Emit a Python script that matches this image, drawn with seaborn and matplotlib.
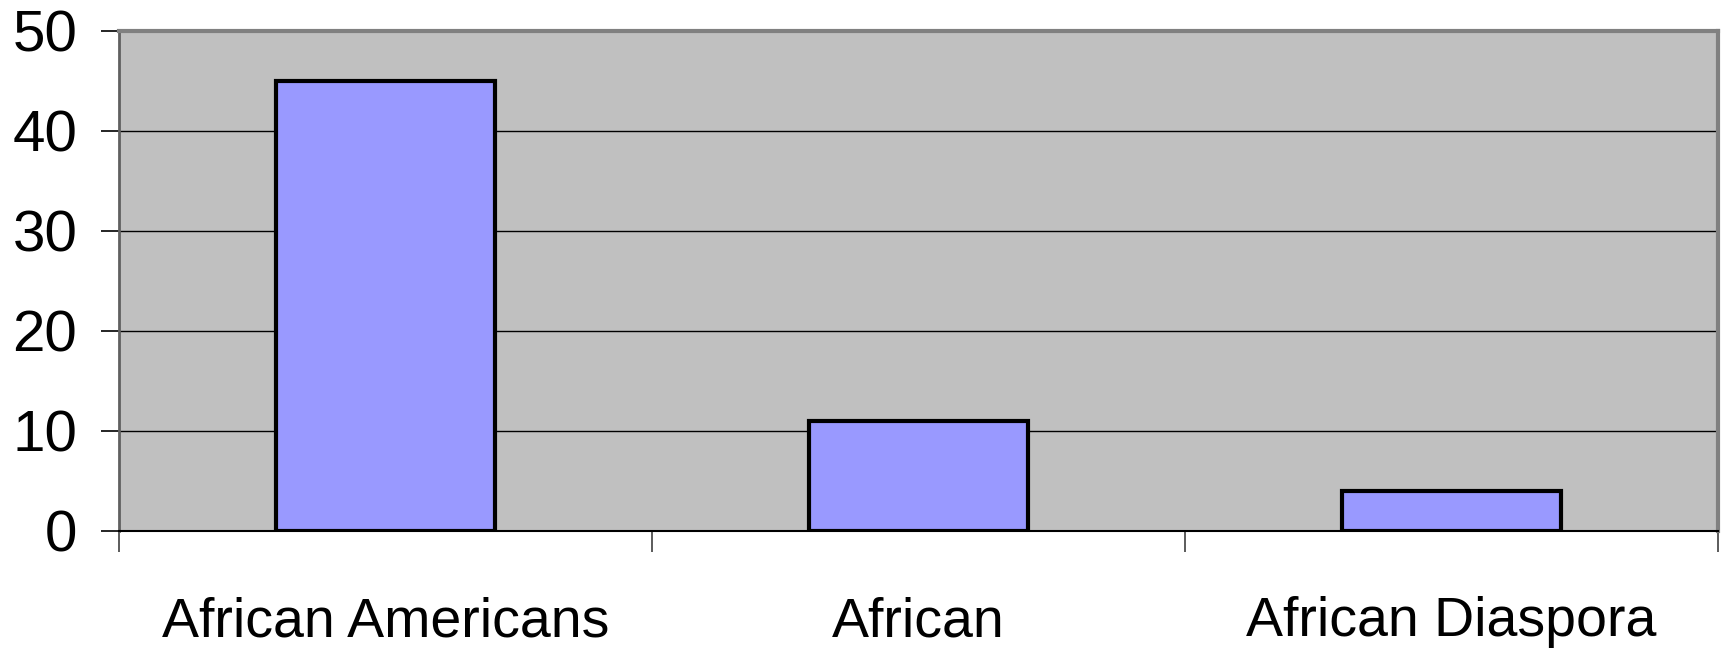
import matplotlib
matplotlib.use("Agg")
import matplotlib.pyplot as plt
import seaborn as sns
import pandas as pd
from matplotlib.ticker import FixedLocator

categories = ["African Americans", "African", "African Diaspora"]
counts = [45, 11, 4]
y_ticks = [0, 10, 20, 30, 40, 50]

sns.set_style("white")
plt.rcParams["font.family"] = ["Liberation Sans", "DejaVu Sans"]
plt.rcParams["text.color"] = "black"
plt.rcParams["xtick.color"] = "black"
plt.rcParams["ytick.color"] = "black"
plt.rcParams["xtick.bottom"] = True
plt.rcParams["ytick.left"] = True

df = pd.DataFrame({"group": categories, "count": counts})

fig = plt.figure(figsize=(17.25, 6.49), dpi=100)
ax = fig.add_axes([119 / 1725, 1 - 531 / 649, (1718 - 119) / 1725, (531 - 31) / 649])
ax.set_facecolor("#C0C0C0")

sns.barplot(data=df, x="group", y="count", color="#9999FF", width=0.41,
            edgecolor="black", linewidth=3, saturation=1, ax=ax, zorder=3)

ax.set_xlim(-0.5, len(categories) - 0.5)
ax.set_ylim(0, 50)
ax.set_yticks(y_ticks)
ax.yaxis.grid(True, color="black", linewidth=1.0, zorder=1)
ax.set_axisbelow(True)
ax.set_xlabel("")
ax.set_ylabel("")

# category separators on the x axis
ax.xaxis.set_minor_locator(FixedLocator([i - 0.5 for i in range(len(categories) + 1)]))
ax.tick_params(axis="x", which="minor", bottom=True, length=15, width=1.2,
               color="#404040", direction="out")
ax.tick_params(axis="x", which="major", length=0, pad=47, labelsize=40,
               labelcolor="black")
ax.tick_params(axis="y", which="major", length=13, width=1.2, color="black",
               direction="out", pad=17, labelsize=42, left=True, labelcolor="black")

for side in ["top", "right"]:
    ax.spines[side].set_visible(True)
    ax.spines[side].set_color("#808080")
    ax.spines[side].set_linewidth(3)
ax.spines["left"].set_color("#606060")
ax.spines["left"].set_linewidth(2)
ax.spines["bottom"].set_color("black")
ax.spines["bottom"].set_linewidth(1.5)

fig.savefig("out.png", dpi=100, facecolor="white")
